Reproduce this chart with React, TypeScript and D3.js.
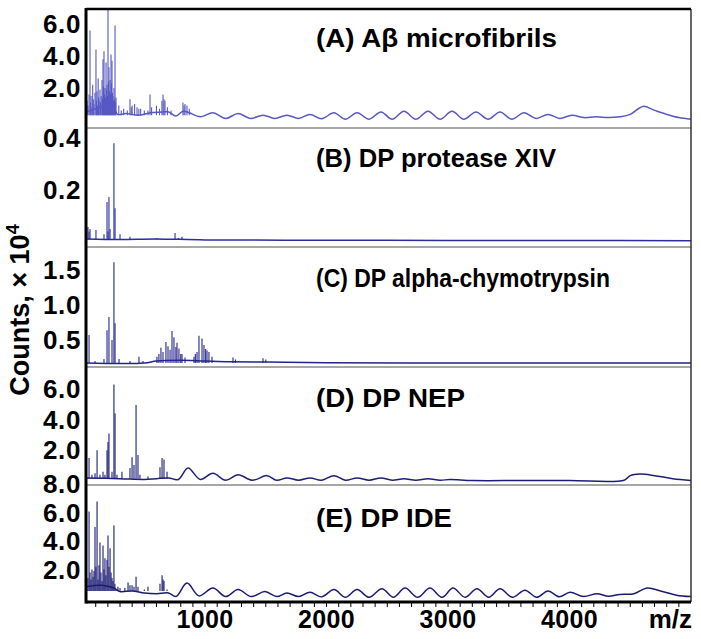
import React from "react";
import * as d3 from "d3";

// ---------- data (m/z, counts ×10^4) ----------
const xTickLabels = [1000, 2000, 3000, 4000];

const ticksA = [6, 4, 2];
const ticksB = [0.4, 0.2];
const ticksC = [1.5, 1.0, 0.5];
const ticksD = [6, 4, 2];
const ticksE = [8, 6, 4, 2];

const titles = ["(A) Aβ microfibrils", "(B) DP protease XIV", "(C) DP alpha-chymotrypsin", "(D) DP NEP", "(E) DP IDE"];

const peaksA: [number, number][] = [
  [28, 1.2], [36, 0.9], [45, 1.6], [53, 5.6], [58, 1.1], [62, 1.5], [69, 0.8], [75, 2.2], [80, 1.3], [85, 1.0], [94, 1.7],
  [102, 4.4], [106, 1.2], [110, 1.8], [115, 0.9], [120, 2.6], [124, 1.4], [128, 1.2], [135, 1.9], [140, 1.1], [145, 1.5],
  [152, 2.5], [156, 1.3], [160, 3.8], [164, 2.1], [168, 4.3], [172, 1.6], [176, 2.0], [180, 1.4], [185, 3.6], [189, 1.9],
  [193, 2.2], [197, 1.5], [201, 7.3], [205, 2.4], [209, 3.3], [214, 1.8], [218, 2.5], [222, 1.6], [226, 4.1], [230, 2.3],
  [234, 3.7], [238, 1.7], [242, 1.5], [246, 1.2], [250, 2.0], [255, 1.3], [259, 5.9], [263, 1.1], [267, 1.4],
  [290, 0.9], [310, 0.6], [330, 0.7], [360, 0.6], [382, 1.3], [392, 0.8], [400, 0.9], [420, 1.0], [440, 0.8], [455, 0.7],
  [470, 0.7], [500, 0.6], [530, 0.6], [547, 1.6], [560, 0.8], [600, 0.9], [625, 0.7], [645, 1.2], [654, 1.6], [662, 1.3],
  [670, 1.2], [690, 0.8], [720, 0.6], [818, 1.1], [827, 0.9], [835, 1.0], [851, 0.9], [870, 0.7],
];
const baseA: [number, number][] = [
  [20, 0.5], [100, 0.7], [180, 0.9], [260, 0.6], [280, 0.35], [350, 0.4], [450, 0.3], [550, 0.45], [650, 0.5], [700, 0.5],
  [760, 0.25], [820, 0.55], [870, 0.45], [960, 0.2], [1065, 0.45], [1170, 0.1], [1271, 0.4], [1375, 0.1], [1477, 0.3],
  [1575, 0.1], [1674, 0.3], [1770, 0.1], [1864, 0.35], [1960, 0.08], [2061, 0.45], [2155, 0.05], [2251, 0.45], [2350, 0.05],
  [2448, 0.5], [2540, 0.05], [2637, 0.55], [2735, 0.05], [2835, 0.55], [2935, 0.05], [3033, 0.55], [3130, 0.05],
  [3230, 0.5], [3330, 0.05], [3428, 0.5], [3525, 0.05], [3625, 0.45], [3725, 0.1], [3823, 0.35], [3920, 0.1], [4020, 0.3],
  [4120, 0.15], [4218, 0.2], [4320, 0.15], [4415, 0.2], [4500, 0.35], [4605, 0.85], [4700, 0.6], [4800, 0.35],
  [4900, 0.15], [5000, 0.05],
];

const peaksB: [number, number][] = [
  [36, 0.058], [45, 0.04], [53, 0.05], [102, 0.046], [168, 0.03], [193, 0.154], [201, 0.04], [209, 0.173], [218, 0.05],
  [250, 0.38], [259, 0.13], [300, 0.03], [382, 0.02], [590, 0.012], [604, 0.015], [640, 0.012], [700, 0.012],
  [753, 0.035], [780, 0.015], [810, 0.02],
];
const baseB: [number, number][] = [
  [20, 0.012], [300, 0.01], [600, 0.012], [1000, 0.008], [2000, 0.007], [3000, 0.006], [4000, 0.006], [5000, 0.005],
];

const peaksC: [number, number][] = [
  [45, 0.57], [94, 0.2], [168, 0.23], [193, 0.64], [209, 0.83], [234, 0.5], [250, 1.61], [259, 0.74], [292, 0.23],
  [382, 0.2], [456, 0.26], [489, 0.2], [604, 0.26], [620, 0.3], [637, 0.39], [654, 0.33], [678, 0.47], [695, 0.41],
  [712, 0.36], [728, 0.63], [744, 0.54], [760, 0.4], [769, 0.46], [785, 0.38], [800, 0.3], [810, 0.3], [835, 0.25],
  [909, 0.26], [920, 0.3], [934, 0.33], [950, 0.56], [975, 0.52], [991, 0.43], [1005, 0.37], [1016, 0.35], [1032, 0.33],
  [1057, 0.26], [1230, 0.25], [1250, 0.22], [1477, 0.24], [1500, 0.22],
];
const baseC: [number, number][] = [
  [20, 0.17], [500, 0.17], [600, 0.2], [800, 0.21], [1000, 0.2], [1200, 0.19], [1500, 0.185], [2000, 0.175],
  [3000, 0.17], [4000, 0.17], [5000, 0.17],
];

const peaksD: [number, number][] = [
  [45, 1.5], [69, 0.4], [94, 0.5], [111, 2.0], [135, 0.4], [160, 0.6], [176, 0.4], [193, 2.0], [201, 2.55], [209, 3.1],
  [234, 0.6], [250, 6.3], [259, 4.4], [275, 0.4], [316, 0.6], [382, 0.85], [399, 1.55], [415, 1.05], [432, 4.95],
  [448, 1.7], [464, 0.4], [530, 0.3], [629, 0.9], [646, 1.5], [662, 1.4], [687, 0.6],
];
const baseD: [number, number][] = [
  [20, 0.2], [300, 0.15], [500, 0.1], [600, 0.15], [700, 0.2], [780, 0.1], [860, 0.85], [960, 0.1], [1065, 0.5],
  [1170, 0.05], [1271, 0.4], [1390, 0.05], [1510, 0.35], [1590, 0.05], [1674, 0.2], [1770, 0.05], [1864, 0.2],
  [1960, 0.05], [2061, 0.35], [2155, 0.05], [2251, 0.2], [2350, 0.05], [2448, 0.2], [2540, 0.05], [2637, 0.15],
  [2735, 0.05], [2835, 0.15], [2935, 0.05], [3016, 0.1], [3200, 0.03], [3600, 0.03], [4000, 0.03], [4450, 0.05],
  [4500, 0.35], [4580, 0.45], [4700, 0.35], [4850, 0.15], [5000, 0.03],
];

const peaksE: [number, number][] = [
  [28, 0.56], [36, 1.4], [45, 6.1], [53, 1.8], [61, 1.3], [69, 2.0], [78, 1.5], [86, 1.9], [94, 5.0], [102, 2.2],
  [111, 6.8], [119, 1.3], [127, 2.3], [135, 3.9], [143, 1.8], [152, 1.2], [160, 3.7], [168, 2.0], [176, 2.8], [184, 1.6],
  [193, 2.7], [201, 4.4], [209, 2.2], [218, 3.5], [226, 1.8], [234, 1.4], [242, 1.2], [250, 5.1], [258, 1.0],
  [267, 0.6], [283, 0.8], [300, 0.7], [340, 0.7], [366, 1.1], [382, 0.9], [399, 0.9], [415, 0.8], [432, 1.5],
  [448, 0.8], [464, 0.5], [500, 0.6], [530, 0.8], [629, 1.0], [646, 1.6], [654, 1.3], [662, 1.2], [687, 0.6],
];
const baseE: [number, number][] = [
  [20, 0.8], [150, 0.9], [250, 0.7], [300, 0.45], [400, 0.5], [500, 0.35], [600, 0.3], [700, 0.35], [760, 0.1],
  [851, 1.05], [950, 0.15], [1065, 0.7], [1170, 0.1], [1271, 0.6], [1380, 0.1], [1493, 0.45], [1590, 0.1],
  [1674, 0.35], [1770, 0.1], [1864, 0.4], [1960, 0.08], [2061, 0.6], [2155, 0.05], [2251, 0.6], [2350, 0.05],
  [2456, 0.65], [2550, 0.05], [2646, 0.7], [2750, 0.05], [2851, 0.7], [2950, 0.05], [3041, 0.7], [3140, 0.05],
  [3238, 0.65], [3335, 0.05], [3428, 0.65], [3530, 0.05], [3633, 0.55], [3730, 0.05], [3823, 0.5], [3915, 0.08],
  [4004, 0.4], [4115, 0.1], [4226, 0.3], [4320, 0.12], [4415, 0.25], [4530, 0.3], [4638, 0.7], [4750, 0.5],
  [4880, 0.2], [5000, 0.1],
];

// ---------- layout ----------
const W = 701;
const H = 639;
const left = 86;
const right = 691;
const top = 9;
const bottom = 602;
const FONT = "'Liberation Sans', Arial, Helvetica, sans-serif";

const x = d3.scaleLinear().domain([20, 5000]).range([left, right]);

type Panel = {
  y0: number; y1: number; y: d3.ScaleLinear<number, number>; ticks: number[];
  peaks: [number, number][]; base: [number, number][]; floor: number; color: string; titleY: number; titleLen: number;
};

const panels: Panel[] = [
  { y0: top, y1: 128, y: d3.scaleLinear().domain([0, 6]).range([120, 24]), ticks: ticksA, peaks: peaksA, base: baseA, floor: 0.3, color: "#5858c4", titleY: 47, titleLen: 241 },
  { y0: 128, y1: 247, y: d3.scaleLinear().domain([0, 0.4]).range([242, 138]), ticks: ticksB, peaks: peaksB, base: baseB, floor: 0.01, color: "#2c2ca0", titleY: 167, titleLen: 240 },
  { y0: 247, y1: 367, y: d3.scaleLinear().domain([0.5, 1.5]).range([340, 270]), ticks: ticksC, peaks: peaksC, base: baseC, floor: 0.17, color: "#25258f", titleY: 287, titleLen: 294 },
  { y0: 367, y1: 485, y: d3.scaleLinear().domain([0, 6]).range([481, 389]), ticks: ticksD, peaks: peaksD, base: baseD, floor: 0.15, color: "#1e1e7a", titleY: 407, titleLen: 149 },
  { y0: 485, y1: bottom, y: d3.scaleLinear().domain([0, 8]).range([598, 484.4]), ticks: ticksE, peaks: peaksE, base: baseE, floor: 0.5, color: "#1b1b74", titleY: 527, titleLen: 136 },
];

export default function App() {
  const minorTicks = d3.range(100, 5000, 100);
  return (
    <svg width={W} height={H} style={{ display: "block", position: "absolute", left: 0, top: 0, background: "#fff" }}>
      <defs>
        {panels.map((p, i) => (
          <clipPath id={`clip${i}`} key={i}>
            <rect x={left} y={p.y0} width={right - left} height={p.y1 - p.y0} />
          </clipPath>
        ))}
      </defs>
      <rect x={0} y={0} width={W} height={H} fill="#fff" />
      {panels.map((p, i) => {
        const line = d3.line<[number, number]>().x((d) => x(d[0])).y((d) => p.y(d[1])).curve(d3.curveCatmullRom.alpha(0.5));
        return (
          <g key={i}>
            <g clipPath={`url(#clip${i})`}>
              <path d={line(p.base) || ""} fill="none" stroke={p.color} strokeWidth={1.5} />
              {p.peaks.map((pk, j) => (
                <line key={j} x1={x(pk[0])} x2={x(pk[0])} y1={p.y(p.floor)} y2={p.y(pk[1])} stroke={p.color} strokeWidth={1.1} />
              ))}
            </g>
            {p.ticks.map((t) => (
              <text key={t} x={81} y={p.y(t)} textAnchor="end" dominantBaseline="central" fontFamily={FONT} fontWeight="bold" fontSize={26} letterSpacing={0.6}>
                {d3.format(".1f")(t)}
              </text>
            ))}
            <text x={316} y={p.titleY} fontFamily={FONT} fontWeight="bold" fontSize={26} textLength={p.titleLen} lengthAdjust="spacingAndGlyphs">
              {titles[i]}
            </text>
            {i > 0 && <line x1={left} x2={right} y1={p.y0} y2={p.y0} stroke="#8a8a8a" strokeWidth={1.3} />}
          </g>
        );
      })}
      {/* frame */}
      <line x1={right} x2={right} y1={top} y2={bottom} stroke="#333" strokeWidth={1.5} />
      <line x1={left} x2={right} y1={top} y2={top} stroke="#000" strokeWidth={2.5} />
      <line x1={left} x2={left} y1={top - 1} y2={bottom + 1.5} stroke="#000" strokeWidth={3} />
      <line x1={left} x2={right} y1={bottom} y2={bottom} stroke="#000" strokeWidth={3} />
      {minorTicks.map((t) => (
        <line key={t} x1={x(t)} x2={x(t)} y1={bottom} y2={bottom + 5} stroke="#000" strokeWidth={1} />
      ))}
      {xTickLabels.map((t) => (
        <text key={t} x={x(t)} y={628} textAnchor="middle" fontFamily={FONT} fontWeight="bold" fontSize={25} letterSpacing={0.4}>
          {t}
        </text>
      ))}
      <text x={692} y={628} textAnchor="end" fontFamily={FONT} fontWeight="bold" fontSize={26}>m/z</text>
      <text transform="translate(29,310) rotate(-90)" textAnchor="middle" fontFamily={FONT} fontWeight="bold" fontSize={27}>
        Counts, × 10<tspan dy={-10} fontSize={18}>4</tspan>
      </text>
    </svg>
  );
}
